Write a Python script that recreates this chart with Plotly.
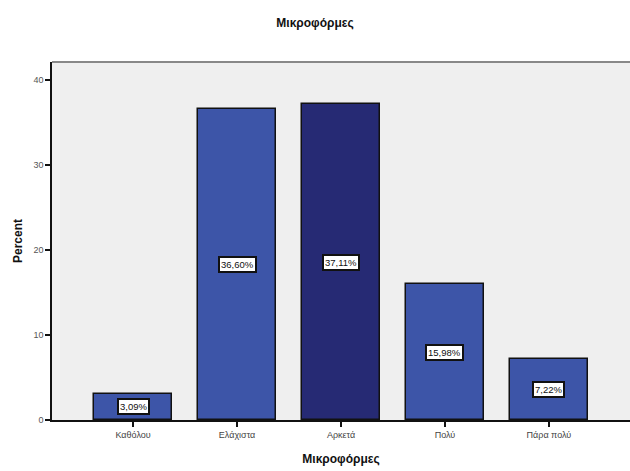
import plotly.graph_objects as go

categories = ["Καθόλου", "Ελάχιστα", "Αρκετά", "Πολύ", "Πάρα πολύ"]
percent = [3.09, 36.60, 37.11, 15.98, 7.22]
value_labels = ["3,09%", "36,60%", "37,11%", "15,98%", "7,22%"]
bar_colors = ["#3d55a8", "#3d55a8", "#262a74", "#3d55a8", "#3d55a8"]

FONT = "Liberation Sans, Arial, sans-serif"

fig = go.Figure()
fig.add_trace(go.Bar(
    x=list(range(len(categories))),
    y=percent,
    width=0.75,
    marker=dict(color=bar_colors, line=dict(color="#111111", width=1.5)),
    hoverinfo="skip",
))

for i, (v, lab) in enumerate(zip(percent, value_labels)):
    fig.add_annotation(
        x=i, y=v / 2, text=lab, showarrow=False,
        font=dict(family=FONT, size=9.5, color="#111111"),
        bgcolor="white", bordercolor="#111111", borderwidth=2, borderpad=1,
    )

fig.update_layout(
    width=630, height=471,
    margin=dict(l=52, r=0, t=62, b=51),
    paper_bgcolor="white",
    plot_bgcolor="#efefef",
    showlegend=False,
    bargap=0,
    title=dict(text="<b>Μικροφόρμες</b>", x=0.5, xanchor="center", y=0.952, yanchor="middle",
               font=dict(family=FONT, size=12, color="#111111")),
    xaxis=dict(
        range=[-0.78, 4.78],
        tickmode="array", tickvals=list(range(len(categories))), ticktext=categories,
        ticks="outside", ticklen=5, tickwidth=1.5, tickcolor="#111111",
        tickfont=dict(family=FONT, size=9, color="#444444"),
        showline=True, linecolor="#111111", linewidth=1.5,
        showgrid=False, zeroline=False,
        title=dict(text="<b>Μικροφόρμες</b>", font=dict(family=FONT, size=12, color="#111111"), standoff=16),
    ),
    yaxis=dict(
        range=[0, 42.1],
        tickvals=[0, 10, 20, 30, 40],
        ticks="outside", ticklen=5, tickwidth=1.5, tickcolor="#111111",
        tickfont=dict(family=FONT, size=9, color="#555555"),
        showline=True, linecolor="#111111", linewidth=1.5,
        showgrid=False, zeroline=False,
        title=dict(text="<b>Percent</b>", font=dict(family=FONT, size=12, color="#111111"), standoff=8),
    ),
    shapes=[dict(type="line", xref="paper", yref="paper", x0=0, x1=1, y0=1, y1=1,
                 line=dict(color="#888888", width=2))],
)

fig.write_html("out.html")
